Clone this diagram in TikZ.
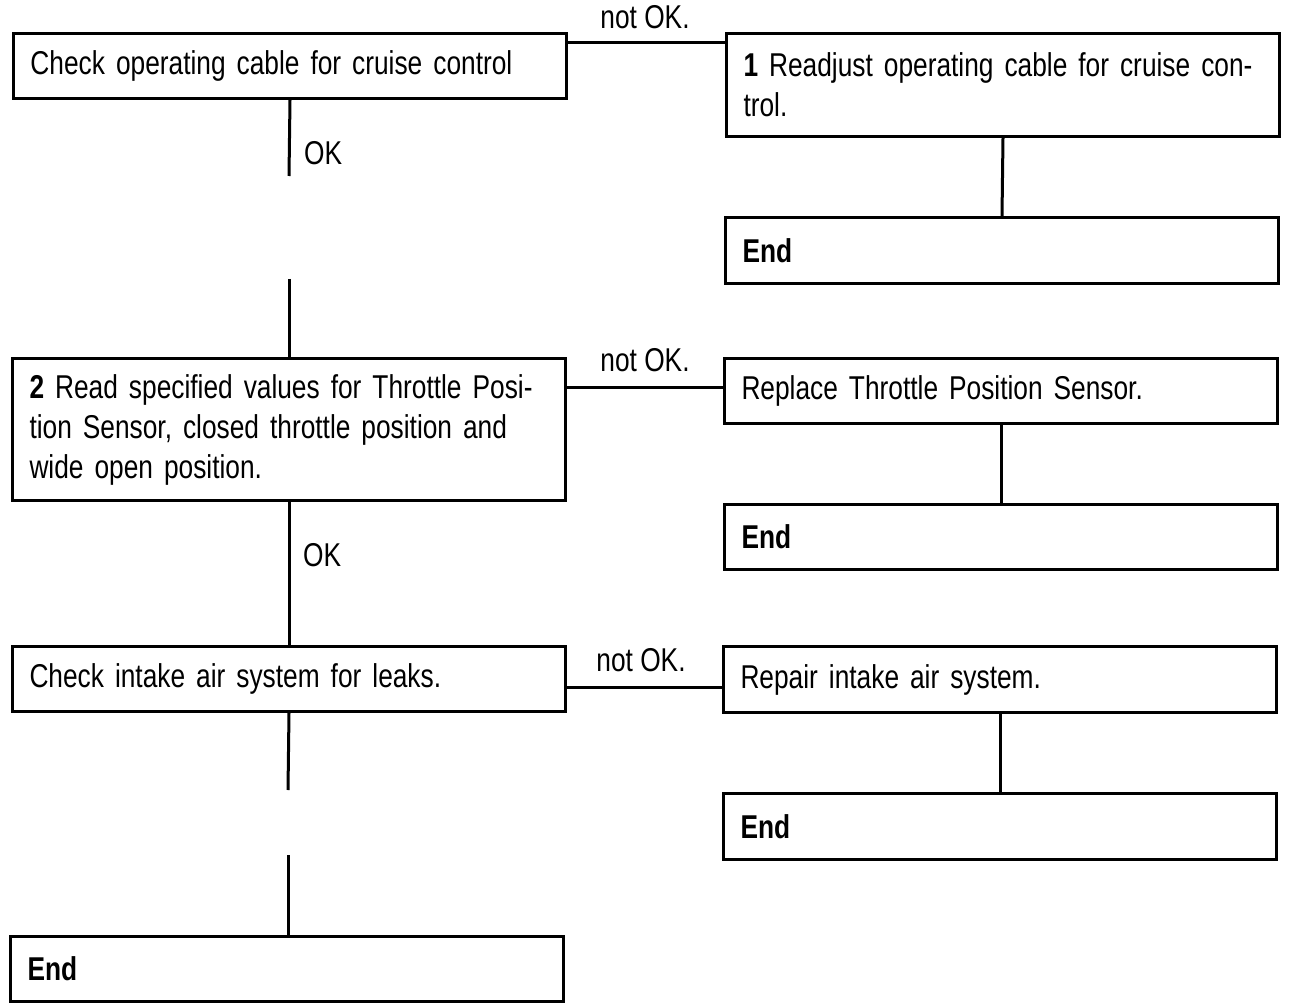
\documentclass[tikz,border=0pt]{standalone}
\usepackage{fontspec}
\setmainfont{Liberation Sans}[FakeStretch=0.797]
\begin{document}
\begin{tikzpicture}[x=1pt,y=-1pt,
  box/.style={draw, line width=3pt, anchor=north west, inner xsep=17pt, inner ysep=0pt,
    text width=519pt, align=left, font=\fontsize{33}{40}\selectfont},
  conn/.style={line width=3pt},
  lbl/.style={font=\fontsize{33}{40}\selectfont, inner sep=0pt}]
\useasboundingbox (0,0) rectangle (1296,1008);
% boxes
\node[box, minimum height=65pt] (A) at (12,32) {\mbox{Check operating cable for cruise control}};
\node[box, minimum height=103pt] (B) at (725,32) {\mbox{\textbf{1} Readjust operating cable for cruise con-}\\\mbox{trol.}};
\node[box, minimum height=66pt] (E1) at (724,216) {\textbf{End}};
\node[box, minimum height=142pt] (C) at (11,357) {\mbox{\textbf{2} Read specified values for Throttle Posi-}\\\mbox{tion Sensor, closed throttle position and}\\\mbox{wide open position.}};
\node[box, minimum height=65pt] (D) at (723,357) {\mbox{Replace Throttle Position Sensor.}};
\node[box, minimum height=65pt] (E2) at (723,503) {\textbf{End}};
\node[box, minimum height=65pt] (E) at (11,645) {\mbox{Check intake air system for leaks.}};
\node[box, minimum height=66pt] (F) at (722,645) {\mbox{Repair intake air system.}};
\node[box, minimum height=66pt] (E3) at (722,792) {\textbf{End}};
\node[box, minimum height=65pt] (E4) at (9,935) {\textbf{End}};
% helper coordinates
\coordinate (h1) at (0,43);
\coordinate (h2) at (0,387);
\coordinate (h3) at (0,687);
\coordinate (a1) at (289,176);
\coordinate (a2) at (289,279);
\coordinate (e1) at (288,790);
\coordinate (e2) at (288,855);
% connectors
\draw[conn] (A.east |- h1) -- (B.west |- h1);
\draw[conn] (B.south) -- (E1.north);
\draw[conn] (A.south) -- (a1);
\draw[conn] (a2) -- (a2 |- C.north);
\draw[conn] (C.east |- h2) -- (D.west |- h2);
\draw[conn] (D.south) -- (E2.north);
\draw[conn] (C.south) -- (C.south |- E.north);
\draw[conn] (E.east |- h3) -- (F.west |- h3);
\draw[conn] (F.south) -- (E3.north);
\draw[conn] (E.south) -- (e1);
\draw[conn] (e2) -- (e2 |- E4.north);
% labels
\node[lbl] (l1) at (645,17) {not OK.};
\node[lbl] (l2) at (645,360) {not OK.};
\node[lbl] (l3) at (641,660) {not OK.};
\node[lbl, anchor=west] (l4) at (304,153) {OK};
\node[lbl, anchor=west] (l5) at (303,555) {OK};
\end{tikzpicture}
\end{document}
